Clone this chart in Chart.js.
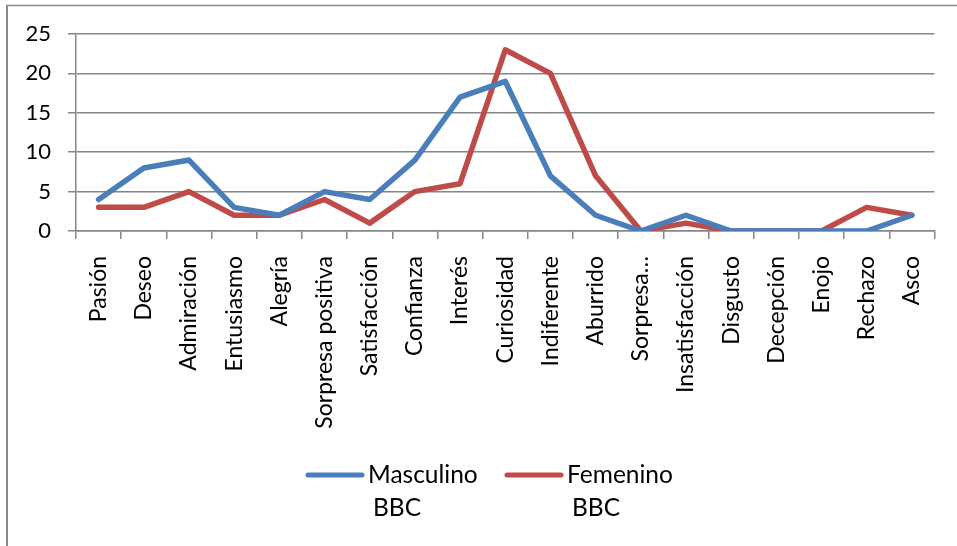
<!DOCTYPE html>
<html>
<head>
<meta charset="utf-8">
<script src="https://cdn.jsdelivr.net/npm/chart.js@4"></script>
<style>
html,body{margin:0;padding:0;background:#fff;}
#wrap{position:relative;width:957px;height:546px;}
</style>
</head>
<body>
<div id="wrap"><canvas id="c" width="957" height="546"></canvas></div>
<script>
const categories = ["Pasión","Deseo","Admiración","Entusiasmo","Alegría","Sorpresa positiva","Satisfacción","Confianza","Interés","Curiosidad","Indiferente","Aburrido","Sorpresa…","Insatisfacción","Disgusto","Decepción","Enojo","Rechazo","Asco"];
const masculino = [4,8,9,3,2,5,4,9,17,19,7,2,0,2,0,0,0,0,2];
const femenino  = [3,3,5,2,2,4,1,5,6,23,20,7,0,1,0,0,0,3,2];
const seriesLabels = [["Masculino","BBC"],["Femenino","BBC"]];
const yTicks = [0,5,10,15,20,25];

const FONT = "Lato, 'Noto Sans', sans-serif";
const GRID = "#868686";
const BLUE = "#4A7EBB";
const RED = "#BE4B48";

const frame = {
  id:'frame',
  beforeDraw(chart){
    const ctx = chart.ctx;
    ctx.save();
    ctx.fillStyle = '#fff';
    ctx.fillRect(0,0,chart.width,chart.height);
    ctx.strokeStyle = '#8a8a8a';
    ctx.beginPath();
    ctx.lineWidth = 1.5;
    ctx.moveTo(6,5.5); ctx.lineTo(chart.width,5.5);
    ctx.stroke();
    ctx.beginPath();
    ctx.lineWidth = 2;
    ctx.moveTo(7,5); ctx.lineTo(7,chart.height);
    ctx.stroke();
    ctx.restore();
  }
};

const legendPlugin = {
  id:'customLegend',
  afterDraw(chart){
    const ctx = chart.ctx;
    const items = [{x:308}, {x:507}];
    const y = 475;
    ctx.save();
    chart.data.datasets.forEach((ds,i)=>{
      const x = items[i].x;
      ctx.strokeStyle = ds.borderColor;
      ctx.lineWidth = 5;
      ctx.lineCap = 'round';
      ctx.beginPath();
      ctx.moveTo(x, y); ctx.lineTo(x+54, y);
      ctx.stroke();
      ctx.fillStyle = '#000';
      ctx.font = "24.5px " + FONT;
      ctx.textBaseline = 'middle';
      ctx.textAlign = 'left';
      const lines = seriesLabels[i];
      ctx.fillText(lines[0], x+60, y);
      ctx.fillText(lines[1], x+65, y+33);
    });
    ctx.restore();
  }
};

new Chart(document.getElementById('c'), {
  type:'line',
  data:{
    labels: categories,
    datasets:[
      {label:seriesLabels[0].join(' '), data:masculino, borderColor:BLUE, backgroundColor:BLUE, borderWidth:5.5, pointRadius:0, tension:0, borderJoinStyle:'round', borderCapStyle:'round'},
      {label:seriesLabels[1].join(' '), data:femenino, borderColor:RED, backgroundColor:RED, borderWidth:5.5, pointRadius:0, tension:0, borderJoinStyle:'round', borderCapStyle:'round'}
    ]
  },
  options:{
    responsive:false,
    animation:false,
    devicePixelRatio:1,
    layout:{padding:{top:34,right:20,left:0,bottom:0}},
    plugins:{legend:{display:false}, tooltip:{enabled:false}},
    scales:{
      x:{
        offset:true,
        grid:{offset:true, drawOnChartArea:false, drawTicks:true, tickLength:8, color:GRID, lineWidth:1.5},
        border:{color:GRID, width:1.5},
        ticks:{minRotation:90, maxRotation:90, autoSkip:false, padding:17, color:'#000', font:{family:FONT, size:23}},
        afterFit(s){ s.height = 546-231; }
      },
      y:{
        min:0, max:25,
        afterBuildTicks(s){ s.ticks = yTicks.map(v=>({value:v})); },
        grid:{color:GRID, lineWidth:1.5, tickLength:8},
        border:{color:GRID, width:1.5},
        ticks:{padding:17, color:'#000', font:{family:FONT, size:22}},
        afterFit(s){ s.width = 76; }
      }
    }
  },
  plugins:[frame, legendPlugin]
});
</script>
</body>
</html>
